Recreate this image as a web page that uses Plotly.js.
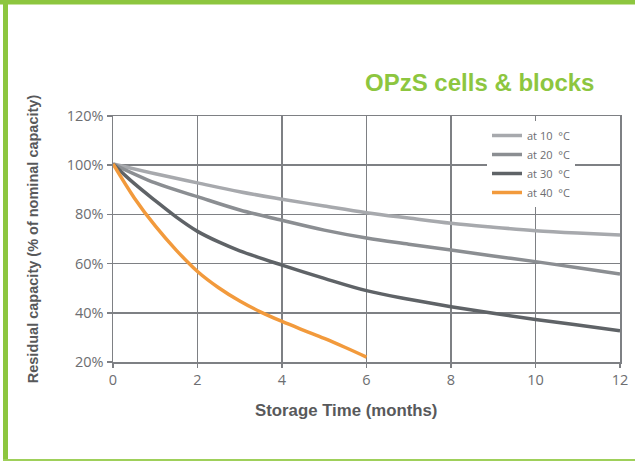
<!DOCTYPE html>
<html>
<head>
<meta charset="utf-8">
<script src="https://cdn.plot.ly/plotly-3.0.1.min.js"></script>
<style>
html,body{margin:0;padding:0;background:#fff;}
#chart{width:635px;height:462px;}
</style>
</head>
<body>
<div id="chart"></div>
<script>
// Data
const seriesNames = ["at 10 \u00a0°C", "at 20 \u00a0°C", "at 30 \u00a0°C", "at 40 \u00a0°C"];
const months10 = [0, 1, 2, 3, 4, 5, 6, 7, 8, 9, 10, 11, 12];
const cap10 = [100.5, 96.5, 92.8, 89.2, 86.2, 83.4, 80.7, 78.5, 76.4, 74.8, 73.4, 72.4, 71.6];
const months20 = [0, 1, 2, 3, 4, 5, 6, 7, 8, 9, 10, 11, 12];
const cap20 = [100.5, 92.8, 87.2, 81.8, 77.6, 73.6, 70.4, 67.9, 65.5, 63.1, 60.8, 58.3, 55.8];
const months30 = [0, 0.5, 1, 1.5, 2, 2.5, 3, 4, 5, 6, 7, 8, 9, 10, 11, 12];
const cap30 = [100.5, 92.6, 85.6, 78.9, 73.1, 68.8, 65.2, 59.4, 54, 49, 45.5, 42.5, 39.8, 37.3, 35, 32.7];
const months40 = [0, 0.5, 1, 1.5, 2, 2.5, 3, 3.5, 4, 4.5, 5, 5.5, 6];
const cap40 = [100.5, 86.8, 75.3, 65.4, 56.8, 50.2, 44.8, 40.3, 36.5, 33, 29.6, 25.9, 22];
const yTicks = [20, 40, 60, 80, 100, 120];
const xTicks = [0, 2, 4, 6, 8, 10, 12];

const colors = ["#a7a9ad", "#8b8e92", "#5f6367", "#f29a3c"];
const xs = [months10, months20, months30, months40];
const ys = [cap10, cap20, cap30, cap40];

const traces = xs.map((x, i) => ({
  type: "scatter",
  mode: "lines",
  x: x,
  y: ys[i],
  name: seriesNames[i],
  line: {color: colors[i], width: 3.5, shape: "spline", smoothing: 1},
  hoverinfo: "skip"
}));

// pixel -> paper helpers for frame decoration (plot area 113..620 x 116..362)
const L = 113, R = 620, T = 116, B = 362;
const px = v => (v - L) / (R - L);
const py = v => (B - v) / (B - T);
const green = "#8dc63f";

const gridColor = "#7e8084";
const tickFont = {family: "Open Sans, sans-serif", size: 14.5, color: "#6d6e71"};

const layout = {
  width: 635,
  height: 462,
  margin: {l: L, r: 635 - R, t: T, b: 462 - B},
  paper_bgcolor: "#ffffff",
  plot_bgcolor: "#ffffff",
  showlegend: true,
  legend: {
    x: px(487), y: py(121), xanchor: "left", yanchor: "top",
    bgcolor: "#ffffff", borderwidth: 0,
    font: {family: "Open Sans, sans-serif", size: 11, color: "#6d6e71"},
    tracegroupgap: 0
  },
  xaxis: {
    range: [0, 12],
    tickvals: xTicks,
    ticktext: xTicks.map(String),
    showgrid: true, gridcolor: gridColor, gridwidth: 1.5,
    showline: true, linecolor: gridColor, linewidth: 1.5, mirror: true,
    ticks: "outside", ticklen: 4, tickcolor: gridColor, tickwidth: 1.5,
    zeroline: false,
    tickfont: tickFont,
    fixedrange: true
  },
  yaxis: {
    range: [20, 120],
    tickvals: yTicks,
    ticktext: yTicks.map(v => v + "%"),
    showgrid: true, gridcolor: gridColor, gridwidth: 1.5,
    showline: true, linecolor: gridColor, linewidth: 1.5, mirror: true,
    ticks: "outside", ticklen: 5, tickcolor: gridColor, tickwidth: 1.5,
    zeroline: false,
    tickfont: tickFont,
    title: {
      text: "Residual capacity (% of nominal capacity)",
      font: {family: "Liberation Sans, Arial, sans-serif", size: 14.5, color: "#58595b", weight: "bold"},
      standoff: 24
    },
    fixedrange: true
  },
  annotations: [
    {
      xref: "paper", yref: "paper", x: px(596), y: py(82),
      xanchor: "right", yanchor: "middle", showarrow: false,
      text: "<b>OPzS cells &amp; blocks</b>",
      font: {family: "Liberation Sans, Arial, sans-serif", size: 24, color: green}
    },
    {
      xref: "paper", yref: "paper", x: px(346), y: py(410),
      xanchor: "center", yanchor: "middle", showarrow: false,
      text: "<b>Storage Time (months)</b>",
      font: {family: "Liberation Sans, Arial, sans-serif", size: 16.8, color: "#58595b"}
    }
  ],
  shapes: [
    {type: "rect", xref: "paper", yref: "paper", x0: px(0), x1: px(635), y0: py(0), y1: py(4.5),
     fillcolor: green, line: {width: 0}, layer: "above"},
    {type: "rect", xref: "paper", yref: "paper", x0: px(3), x1: px(8), y0: py(0), y1: py(461),
     fillcolor: green, line: {width: 0}, layer: "above"},
    {type: "rect", xref: "paper", yref: "paper", x0: px(3), x1: px(635), y0: py(459), y1: py(461),
     fillcolor: "#9fd05a", line: {width: 0}, layer: "above"}
  ]
};

Plotly.newPlot("chart", traces, layout, {displayModeBar: false, staticPlot: true});
</script>
</body>
</html>
